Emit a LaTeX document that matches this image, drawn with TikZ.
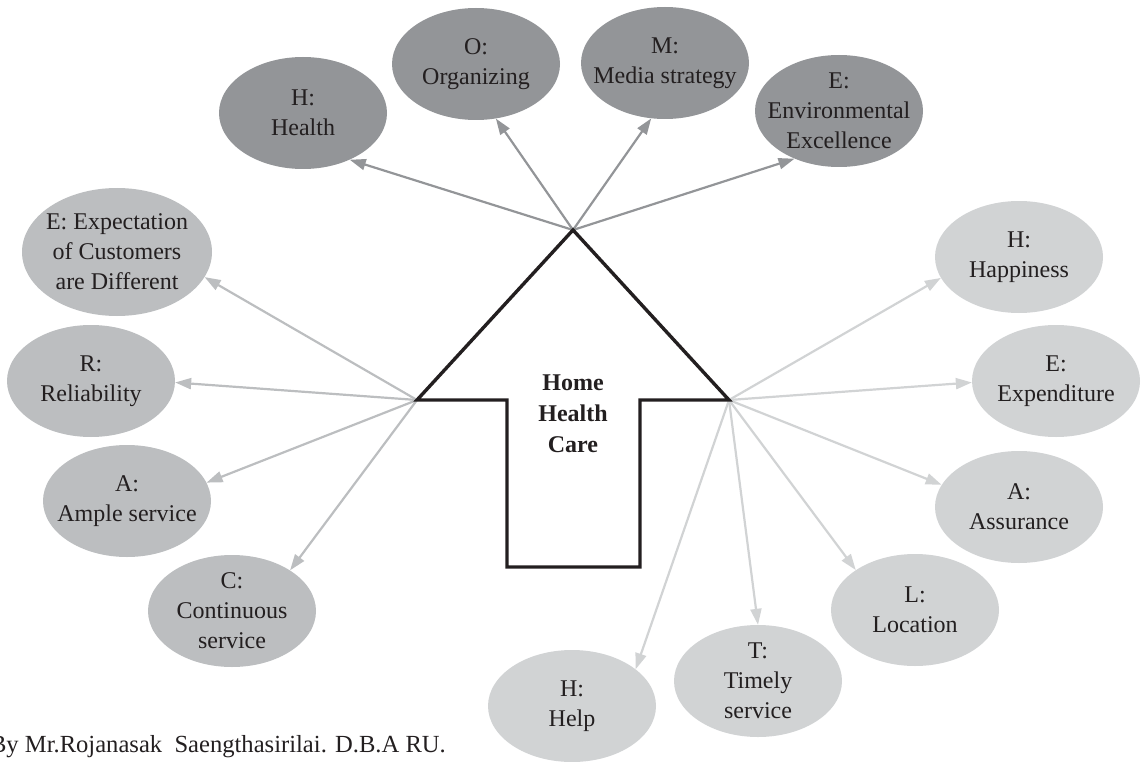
\documentclass[tikz,border=0pt]{standalone}
\usepackage{fontspec}
\setmainfont{Liberation Serif}
\usetikzlibrary{shapes.geometric,arrows.meta}
\definecolor{topfill}{RGB}{147,149,152}
\definecolor{leftfill}{RGB}{188,190,192}
\definecolor{rightfill}{RGB}{209,211,212}
\definecolor{ink}{RGB}{35,31,32}
\begin{document}
\begin{tikzpicture}[x=1pt,y=-1pt,
  bubble/.style={ellipse, draw=none, minimum width=168pt, minimum height=112pt, inner sep=0pt},
  lbl/.style={align=center, text=ink, font=\fontsize{24}{30}\selectfont, inner sep=0pt},
  ray/.style={line width=2.2pt, -{Triangle[length=16pt,width=11pt]}},
  toparrow/.style={ray, draw=topfill, fill=topfill},
  leftarrow/.style={ray, draw=leftfill, fill=leftfill},
  rightarrow/.style={ray, draw=rightfill, fill=rightfill},
  house/.style={draw=ink, line width=3.4pt, line join=miter}]
\useasboundingbox (0,0) rectangle (1142,762);

% top bubbles
\node[bubble, fill=topfill] (health) at (303,113) {};
\node[lbl] at (health) {H:\\Health};
\node[bubble, fill=topfill] (organizing) at (476,64) {};
\node[lbl] at (organizing) {O:\\Organizing};
\node[bubble, fill=topfill] (media) at (665,63) {};
\node[lbl] at (media) {M:\\Media strategy};
\node[bubble, fill=topfill] (environ) at (839,111) {};
\node[lbl] at (environ) {E:\\Environmental\\Excellence};

% left bubbles
\node[bubble, fill=leftfill, minimum width=190pt, minimum height=128pt] (expect) at (117,252) {};
\node[lbl] at (expect) {E: Expectation\\of Customers\\are Different};
\node[bubble, fill=leftfill] (reliab) at (91,381) {};
\node[lbl] at (reliab) {R:\\Reliability};
\node[bubble, fill=leftfill] (ample) at (127,501) {};
\node[lbl] at (ample) {A:\\Ample service};
\node[bubble, fill=leftfill] (contin) at (232,611) {};
\node[lbl] at (contin) {C:\\Continuous\\service};

% right bubbles
\node[bubble, fill=rightfill] (happy) at (1019,257) {};
\node[lbl] at (happy) {H:\\Happiness};
\node[bubble, fill=rightfill] (expend) at (1056,381) {};
\node[lbl] at (expend) {E:\\Expenditure};
\node[bubble, fill=rightfill] (assur) at (1019,507) {};
\node[lbl] at (assur) {A:\\Assurance};
\node[bubble, fill=rightfill] (locat) at (915,610) {};
\node[lbl] at (locat) {L:\\Location};
\node[bubble, fill=rightfill] (timely) at (758,681) {};
\node[lbl] at (timely) {T:\\Timely\\service};
\node[bubble, fill=rightfill] (help) at (572,706) {};
\node[lbl] at (help) {H:\\Help};

% house corners
\coordinate (apex) at (573,230);
\coordinate (lc) at (417,400);
\coordinate (rc) at (729,400);
\coordinate (sl) at (507,400);
\coordinate (sr) at (640,400);
\coordinate (bl) at (507,567);
\coordinate (br) at (640,567);

% arrows
\draw[toparrow] (apex) -- (health.-45);
\draw[toparrow] (apex) -- (organizing.-70);
\draw[toparrow] (apex) -- (media.-104);
\draw[toparrow] (apex) -- (environ.-133);

\draw[leftarrow] (lc) -- (expect.-16);
\draw[leftarrow] (lc) -- (reliab.-1);
\draw[leftarrow] (lc) -- (ample.13);
\draw[leftarrow] (lc) -- (contin.35);

\draw[rightarrow] (rc) -- (happy.195);
\draw[rightarrow] (rc) -- (expend.181);
\draw[rightarrow] (rc) -- (assur.164);
\draw[rightarrow] (rc) -- (locat.146);
\draw[rightarrow] (rc) -- (timely.90);
\draw[rightarrow] (rc) -- (help.30);

% house outline
\draw[house] (apex) -- (rc) -- (sr) -- (br) -- (bl) -- (sl) -- (lc) -- cycle;
\node[lbl, font=\fontsize{24}{31}\selectfont\bfseries] (hhc) at (573,414) {Home\\Health\\Care};

% credit
\node[lbl, font=\fontsize{24.6}{30}\selectfont, anchor=base east] (credit) at (446,752) {By Mr.Rojanasak\ \ Saengthasirilai. D.B.A RU.};
\end{tikzpicture}
\end{document}
